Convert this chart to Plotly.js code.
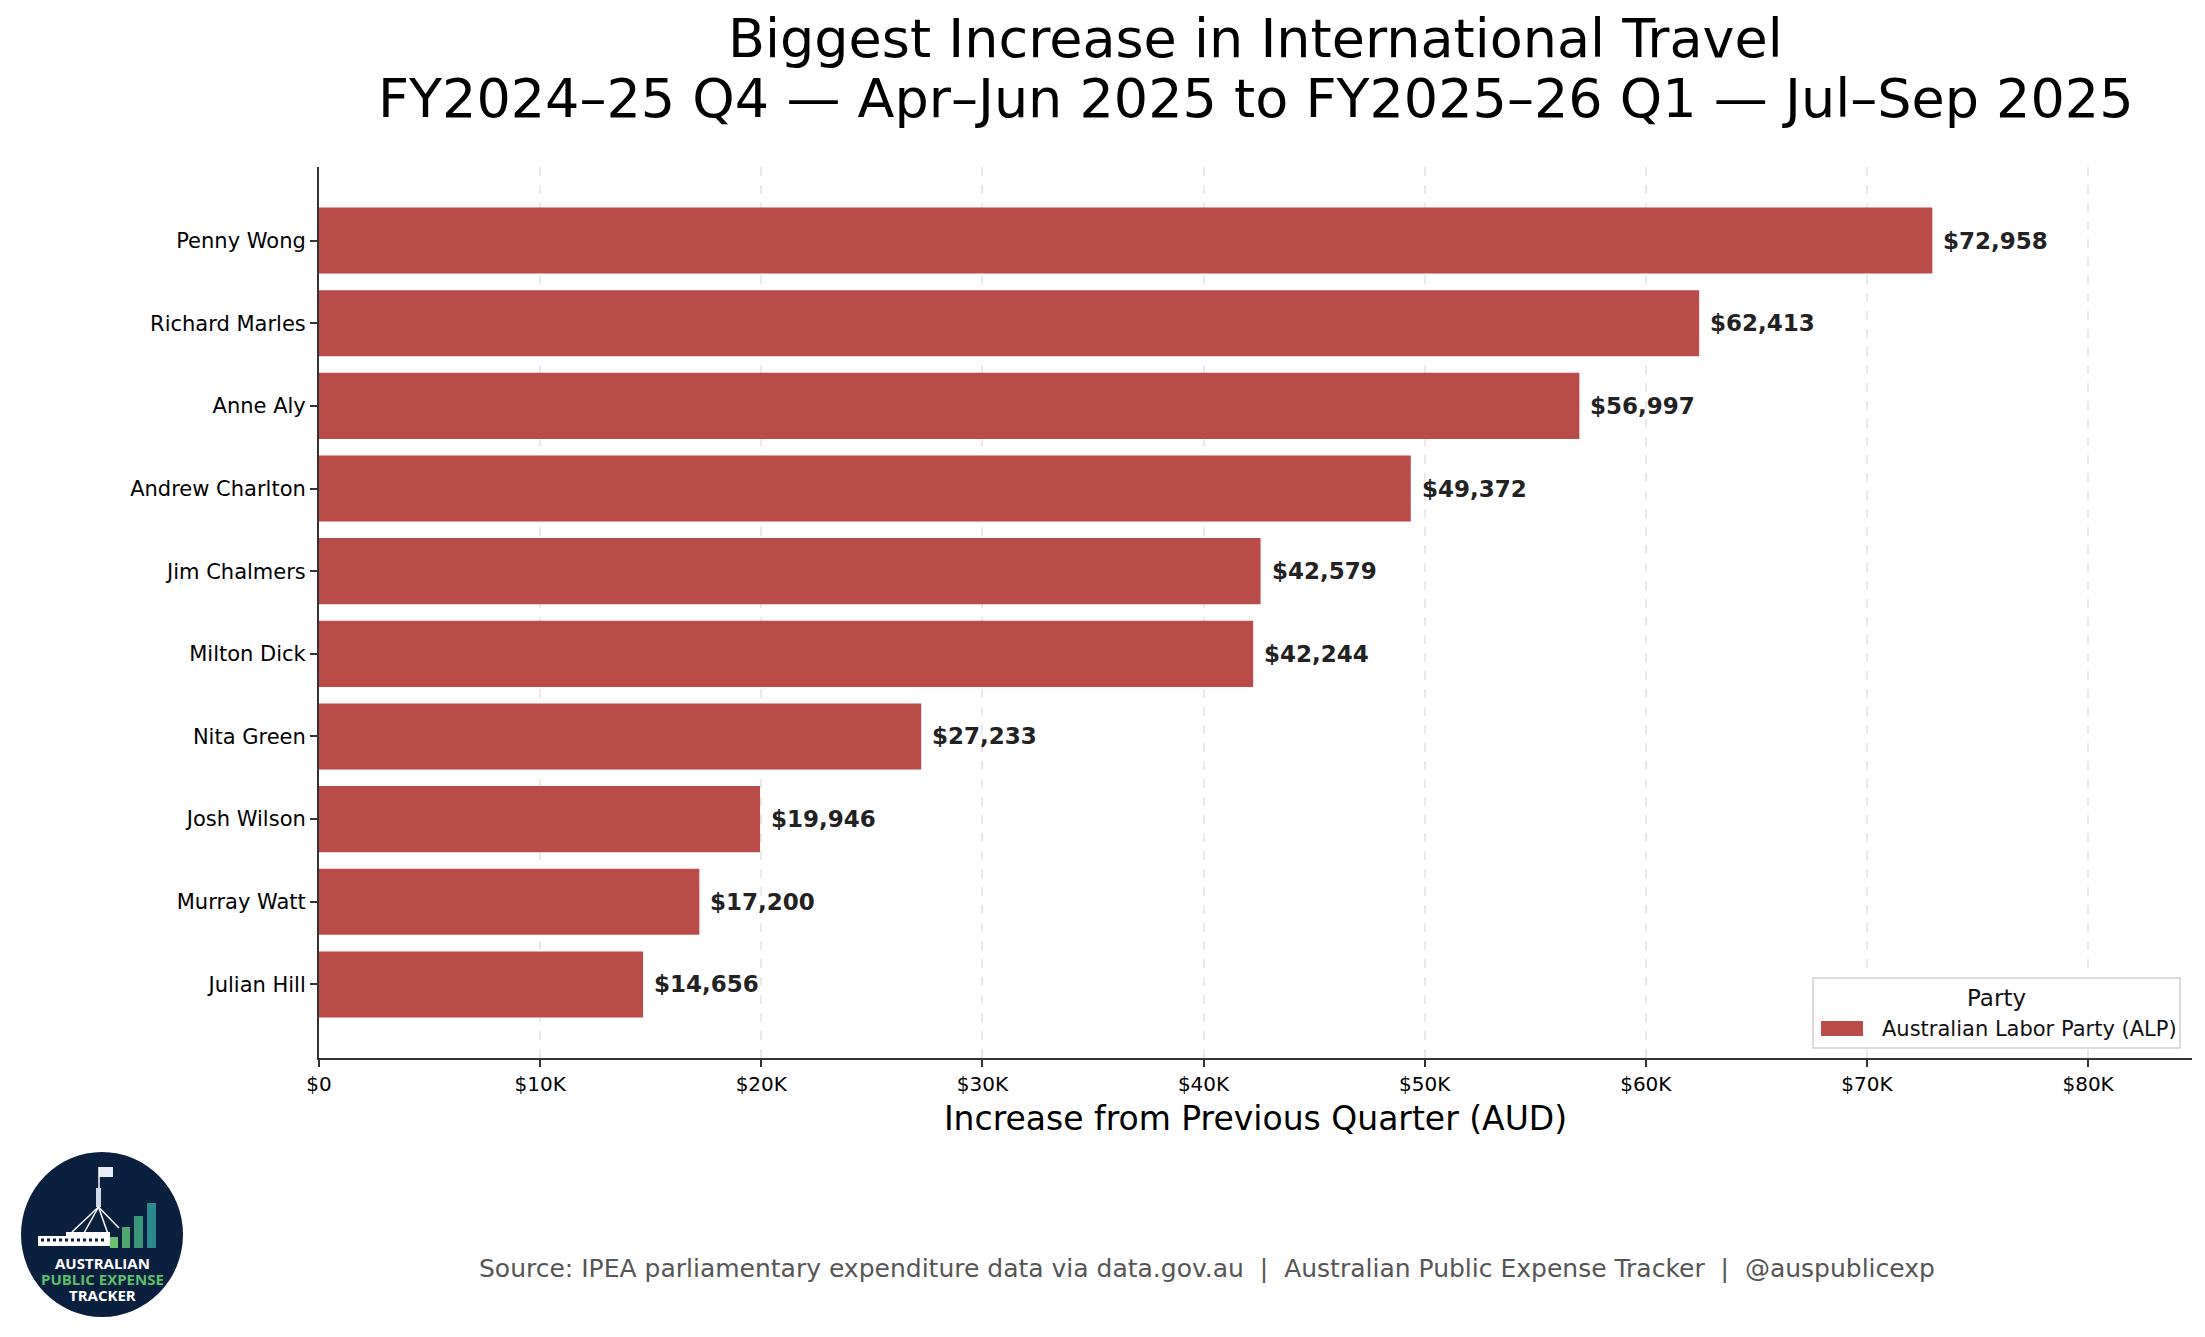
<!DOCTYPE html>
<html>
<head>
<meta charset="utf-8">
<script src="https://cdn.plot.ly/plotly-3.0.1.min.js"></script>
<style>
  html, body { margin: 0; padding: 0; background: #fff; }
  #chart { width: 2205px; height: 1337px; }
</style>
</head>
<body>
<div id="chart"></div>
<script>
// data
const members = ["Penny Wong", "Richard Marles", "Anne Aly", "Andrew Charlton", "Jim Chalmers",
  "Milton Dick", "Nita Green", "Josh Wilson", "Murray Watt", "Julian Hill"];
const increases = [72958, 62413, 56997, 49372, 42579, 42244, 27233, 19946, 17200, 14656];
const tickVals = [0, 10000, 20000, 30000, 40000, 50000, 60000, 70000, 80000];
const tickText = ["$0", "$10K", "$20K", "$30K", "$40K", "$50K", "$60K", "$70K", "$80K"];
const partyName = "Australian Labor Party (ALP)";
const titleLines = ["Biggest Increase in International Travel",
  "FY2024–25 Q4 — Apr–Jun 2025 to FY2025–26 Q1 — Jul–Sep 2025"];
const xTitle = "Increase from Previous Quarter (AUD)";
const sourceText = "Source: IPEA parliamentary expenditure data via data.gov.au  |  Australian Public Expense Tracker  |  @auspublicexp";

const BAR_COLOR = "#b94b49";
const FONT = "DejaVu Sans, sans-serif";

// plot area in page pixels, used to place the decorations
const L = 319, R = 2192, T = 167, B = 1058;
const px = (x) => (x - L) / (R - L);
const py = (y) => (B - y) / (B - T);

const rect = (x0, y0, x1, y1, fill, extra = {}) => ({
  type: "rect", xref: "paper", yref: "paper",
  x0: px(x0), x1: px(x1), y0: py(y1), y1: py(y0),
  fillcolor: fill, line: { width: 0 }, layer: "above", ...extra,
});
const seg = (x0, y0, x1, y1, color, width) => ({
  type: "line", xref: "paper", yref: "paper",
  x0: px(x0), x1: px(x1), y0: py(y0), y1: py(y1),
  line: { color: color, width: width }, layer: "above",
});

const trace = {
  type: "bar",
  orientation: "h",
  x: increases,
  y: members,
  marker: { color: BAR_COLOR },
  showlegend: false,
  hovertemplate: "%{y}: $%{x:,}<extra></extra>",
};

const valueLabels = members.map((name, i) => ({
  x: increases[i],
  y: name,
  xref: "x",
  yref: "y",
  text: "<b>$" + increases[i].toLocaleString("en-US") + "</b>",
  showarrow: false,
  xanchor: "left",
  yanchor: "middle",
  xshift: 9,
  font: { family: FONT, size: 23, color: "#222222" },
}));

// two title lines, placed separately to match the line spacing
const titleNotes = titleLines.map((t, i) => ({
  text: t, xref: "paper", yref: "paper", x: 0.5, y: py([38, 98][i]),
  xanchor: "center", yanchor: "middle", showarrow: false,
  font: { family: FONT, size: 54, color: "#000" },
}));

// logo (bottom left)
const NAVY = "#0b1f3f";
const logoShapes = [
  { type: "circle", xref: "paper", yref: "paper", x0: px(21), x1: px(183), y0: py(1317), y1: py(1152),
    fillcolor: NAVY, line: { width: 0 }, layer: "above" },
  rect(99, 1167, 113, 1177, "#e6edf5"),
  seg(99, 1167, 99, 1190, "#ffffff", 1.5),
  rect(96, 1188, 101, 1207, "#cfd8e3"),
  seg(98.5, 1207, 72, 1232, "#ffffff", 1.5),
  seg(98.5, 1207, 84, 1233, "#ffffff", 1.5),
  seg(98.5, 1207, 108, 1234, "#ffffff", 1.5),
  seg(98.5, 1207, 119, 1228, "#ffffff", 1.5),
  rect(38, 1236, 80, 1246, "#ffffff"),
  rect(66, 1232, 110, 1246, "#ffffff"),
  { type: "line", xref: "paper", yref: "paper", x0: px(41), x1: px(106), y0: py(1240), y1: py(1240),
    line: { color: NAVY, width: 3, dash: "dot" }, layer: "above" },
  rect(110, 1237, 118, 1248, "#6cc070"),
  rect(122, 1227, 130, 1248, "#4fa86e"),
  rect(134, 1216, 143, 1248, "#3b957a"),
  rect(147, 1203, 156, 1248, "#2a8a8c"),
];
const logoText = [
  ["AUSTRALIAN", 1263, "#ffffff"],
  ["PUBLIC EXPENSE", 1279, "#5cc06a"],
  ["TRACKER", 1295, "#ffffff"],
].map(([t, y, c]) => ({
  text: "<b>" + t + "</b>", xref: "paper", yref: "paper", x: px(102), y: py(y),
  xanchor: "center", yanchor: "middle", showarrow: false,
  font: { family: "Open Sans, sans-serif", size: 15, color: c },
}));

// legend box drawn by hand so the patch matches the reference
const legendShapes = [
  rect(1813, 978, 2180, 1048, "rgba(255,255,255,0.85)", { line: { color: "#d0d0d0", width: 1.5 } }),
  rect(1821, 1021, 1863, 1036, BAR_COLOR),
];
const legendText = [
  { text: "Party", xref: "paper", yref: "paper", x: px(1996), y: py(998), xanchor: "center", yanchor: "middle",
    showarrow: false, font: { family: FONT, size: 23, color: "#111" } },
  { text: partyName, xref: "paper", yref: "paper", x: px(1880), y: py(1029), xanchor: "left", yanchor: "middle",
    showarrow: false, font: { family: FONT, size: 21, color: "#111" } },
];

const sourceNote = {
  text: sourceText, xref: "paper", yref: "paper", x: px(1207), y: py(1268),
  xanchor: "center", yanchor: "middle", showarrow: false,
  font: { family: FONT, size: 25, color: "#555555" },
};

const layout = {
  width: 2205,
  height: 1337,
  margin: { l: L, r: 2205 - R, t: T, b: 1337 - B, pad: 0 },
  paper_bgcolor: "#ffffff",
  plot_bgcolor: "#ffffff",
  font: { family: FONT, size: 20, color: "#000" },
  bargap: 0.2,
  xaxis: {
    range: [0, 84700],
    tickvals: tickVals,
    ticktext: tickText,
    tickfont: { size: 20, color: "#000" },
    ticks: "outside", ticklen: 7, tickwidth: 2, tickcolor: "#333",
    showline: true, linecolor: "#333", linewidth: 2,
    showgrid: true, gridcolor: "#e9e9e9", gridwidth: 1.5, griddash: "dash",
    zeroline: false,
    title: { text: xTitle, font: { size: 33, color: "#000" }, standoff: 12 },
  },
  yaxis: {
    type: "category",
    range: [9.89, -0.89],
    tickfont: { size: 21, color: "#000" },
    ticks: "outside", ticklen: 7, tickwidth: 2, tickcolor: "#333",
    showline: true, linecolor: "#333", linewidth: 2,
    showgrid: false, zeroline: false,
  },
  shapes: [...legendShapes, ...logoShapes],
  annotations: [...titleNotes, ...valueLabels, ...legendText, sourceNote, ...logoText],
};

Plotly.newPlot("chart", [trace], layout, { displayModeBar: false, responsive: false });
</script>
</body>
</html>
